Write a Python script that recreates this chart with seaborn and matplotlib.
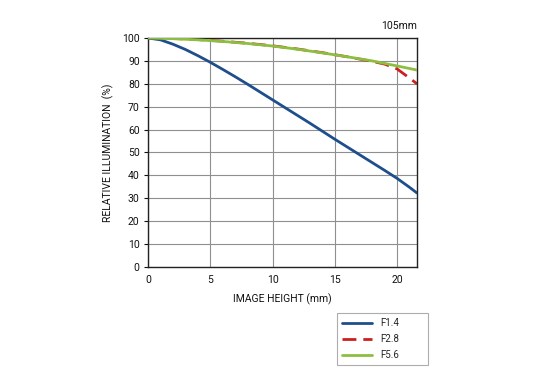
import matplotlib
matplotlib.use("Agg")
import matplotlib.pyplot as plt
import seaborn as sns
import pandas as pd

sns.set_theme(style="white")
plt.rcParams['font.family'] = ['Roboto', 'DejaVu Sans']

x_f14 = [0, 1, 2, 3, 4, 5, 6, 7, 8, 9, 10, 11, 12, 13, 14, 15, 16, 17, 18, 19, 20, 21, 21.6]
y_f14 = [100, 99.2, 97.3, 95.0, 92.3, 89.4, 86.3, 83.1, 79.8, 76.4, 73.0, 69.6, 66.2, 62.8, 59.3, 55.8, 52.4, 49.0, 45.6, 42.2, 38.7, 34.8, 32.3]
x_f28 = [0, 2, 4, 6, 8, 10, 12, 14, 16, 18, 19, 20, 21, 21.6]
y_f28 = [100, 99.8, 99.3, 98.6, 97.7, 96.6, 95.2, 93.6, 91.8, 89.8, 88.6, 86.5, 82.5, 80.0]
x_f56 = [0, 2, 4, 6, 8, 10, 12, 14, 16, 18, 20, 21.6]
y_f56 = [100, 99.7, 99.2, 98.5, 97.6, 96.5, 95.1, 93.5, 91.8, 90.0, 87.8, 86.0]

labels = ["F1.4", "F2.8", "F5.6"]
colors = ["#1f4e8c", "#cc1f1f", "#8cbf3f"]

df = pd.concat([
    pd.DataFrame({"x": x_f14, "y": y_f14, "s": labels[0]}),
    pd.DataFrame({"x": x_f28, "y": y_f28, "s": labels[1]}),
    pd.DataFrame({"x": x_f56, "y": y_f56, "s": labels[2]}),
])

fig = plt.figure(figsize=(5.51, 3.77), dpi=100)
ax = fig.add_axes([0.2686, 0.2918, 0.4882, 0.6074])

for lab, col in zip(labels, colors):
    d = df[df.s == lab]
    ls = (0, (5, 2.5)) if lab == "F2.8" else "-"
    sns.lineplot(data=d, x="x", y="y", ax=ax, color=col, lw=2.0, linestyle=ls,
                 label=lab, legend=False, zorder=3 if lab != "F2.8" else 2.5)

ax.set_xlim(0, 21.6)
ax.set_ylim(0, 100)
ax.set_xticks([0, 5, 10, 15, 20])
ax.set_yticks(range(0, 101, 10))
ax.grid(True, color="#8f8f8f", lw=0.8)
for s in ax.spines.values():
    s.set_color("#222222")
    s.set_linewidth(1.0)
ax.tick_params(axis="both", labelsize=7.5, colors="#111111", length=3, width=0.8,
               left=True, bottom=False, pad=3)
ax.set_xlabel("IMAGE HEIGHT (mm)", fontsize=7.5, color="#111111", labelpad=6)
ax.set_ylabel("RELATIVE ILLUMINATION  (%)", fontsize=7.5, color="#111111", labelpad=6)
ax.text(1.0, 1.03, "105mm", transform=ax.transAxes, ha="right", va="bottom",
        fontsize=7.5, color="#111111")

handles, lbls = ax.get_legend_handles_labels()
leg = fig.legend(handles, lbls, loc="upper left",
                 bbox_to_anchor=(337/551, 1-365/377, 91/551, 52/377), mode="expand",
                 fontsize=7, frameon=True, fancybox=False, handlelength=3.1,
                 borderpad=0.55, labelspacing=0.6, handletextpad=0.8, borderaxespad=0)
leg.get_frame().set_edgecolor("#999999")
leg.get_frame().set_linewidth(0.8)
fig.savefig("out.png", dpi=100)
